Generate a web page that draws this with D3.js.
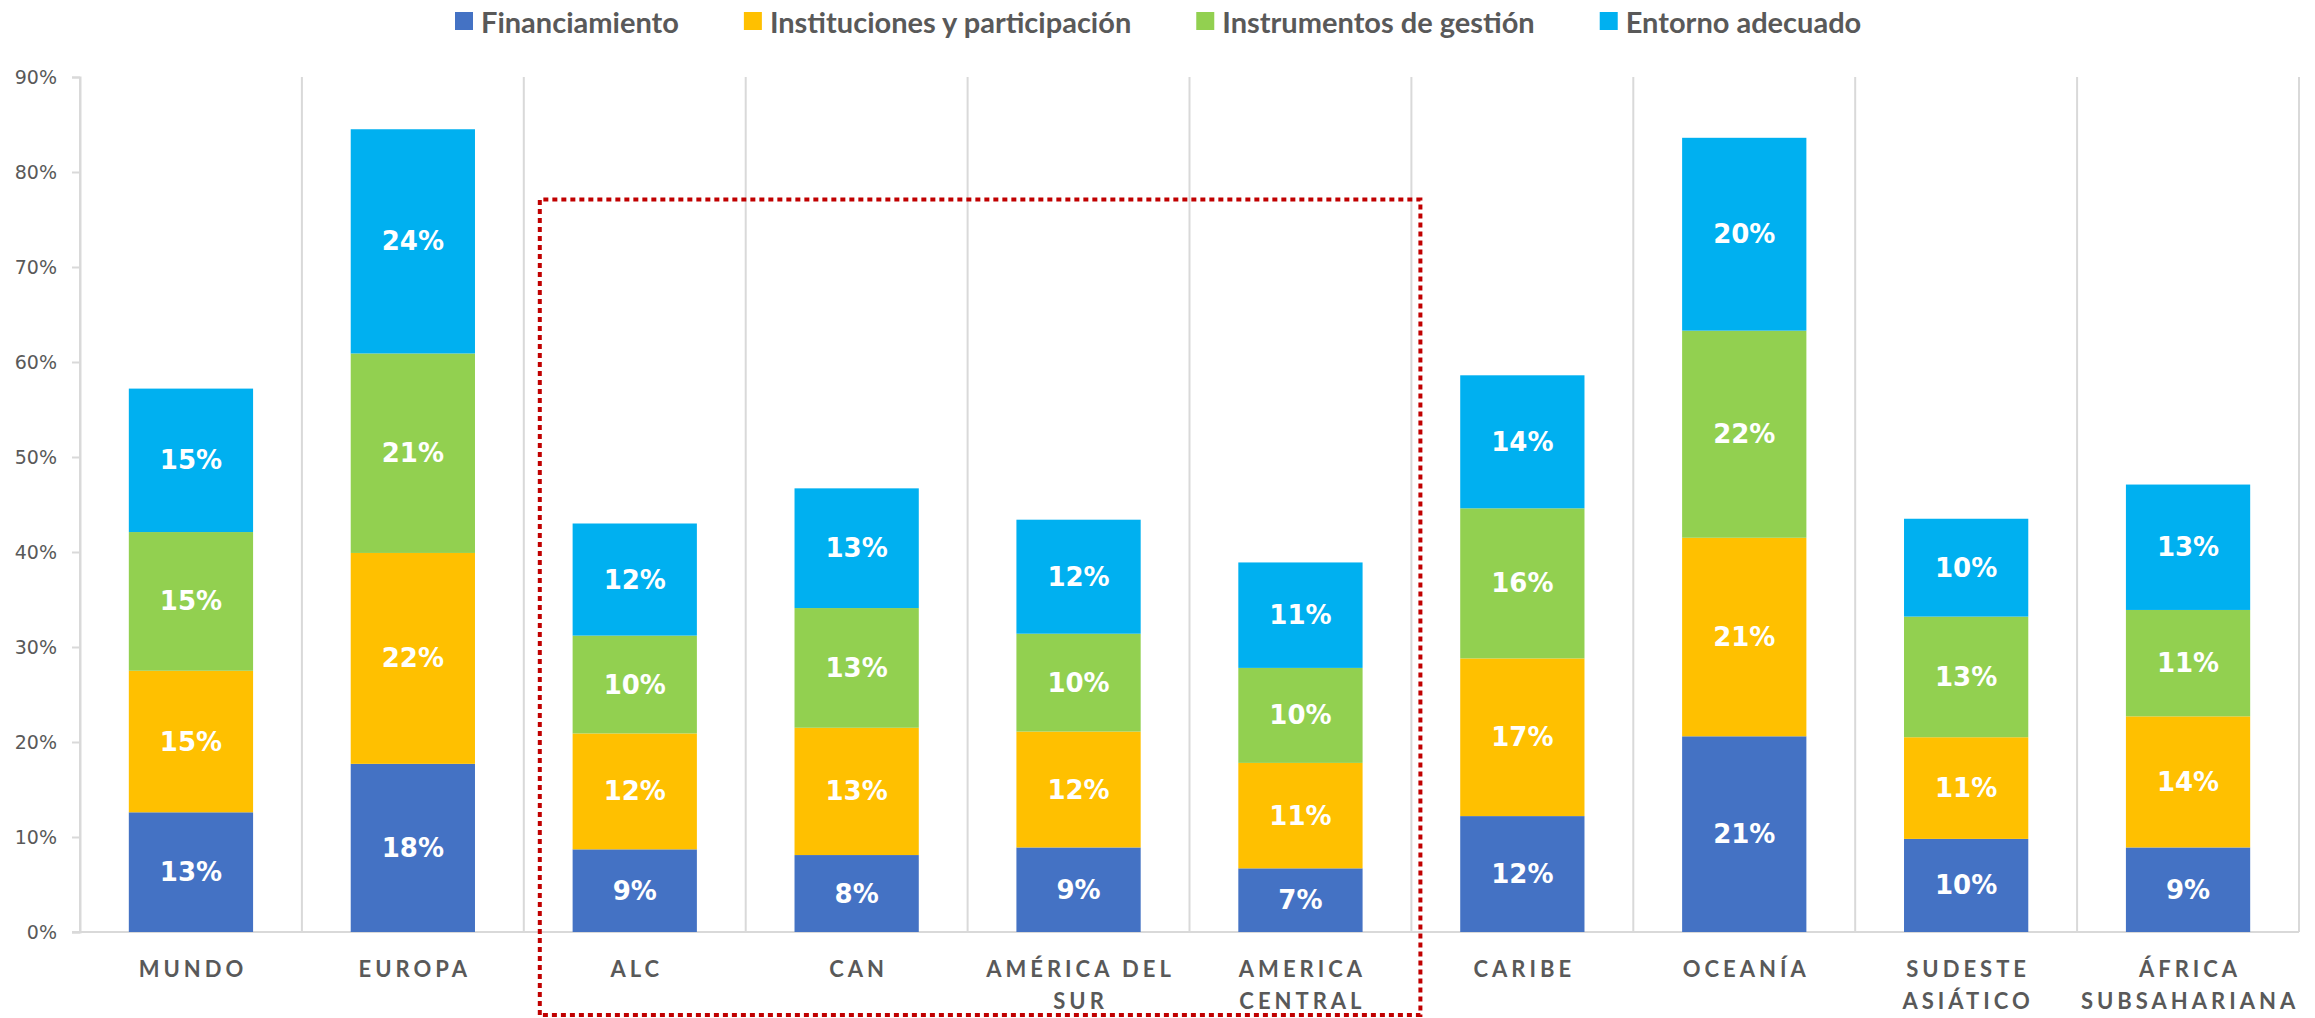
<!DOCTYPE html>
<html lang="es">
    <head>
        <meta charset="UTF-8" />
        <title>Gráfico</title>
        <style>
            body { margin: 0; background: #fff; }
            .axis-y path, .axis-y line { stroke: #D9D9D9; stroke-width: 2; }
            .axis-y text { font-family: "DejaVu Sans", sans-serif; font-size: 19px; fill: #595959; }
            .cat-label { font-family: Lato, sans-serif; font-weight: 700; font-size: 22px; fill: #595959; letter-spacing: 4px; }
            .bar-label { font-family: "DejaVu Sans", sans-serif; font-weight: 700; font-size: 26px; fill: #fff; }
            .legend text { font-family: Lato, sans-serif; font-weight: 700; font-size: 29px; fill: #595959; }
        </style>
    </head>
    <body>
        <div class="chart"></div>

        <script src="https://d3js.org/d3.v7.min.js"></script>

        <script>
            // 資料 =================================================================
            const categories = ['MUNDO', 'EUROPA', 'ALC', 'CAN', 'AMÉRICA DEL SUR', 'AMERICA CENTRAL',
              'CARIBE', 'OCEANÍA', 'SUDESTE ASIÁTICO', 'ÁFRICA SUBSAHARIANA']
            const seriesNames = ['Financiamiento', 'Instituciones y participación', 'Instrumentos de gestión', 'Entorno adecuado']
            const seriesColors = ['#4472C4', '#FFC000', '#92D050', '#00B0F0']

            const financiamiento = [0.126, 0.177, 0.087, 0.081, 0.089, 0.067, 0.122, 0.206, 0.098, 0.089]
            const instituciones  = [0.149, 0.222, 0.122, 0.134, 0.122, 0.111, 0.166, 0.209, 0.107, 0.138]
            const instrumentos   = [0.146, 0.210, 0.103, 0.126, 0.103, 0.100, 0.158, 0.218, 0.127, 0.112]
            const entorno        = [0.151, 0.236, 0.118, 0.126, 0.120, 0.111, 0.140, 0.203, 0.103, 0.132]

            const yTicks = [0, 0.1, 0.2, 0.3, 0.4, 0.5, 0.6, 0.7, 0.8, 0.9]
            // 紅色虛線框住的區域
            const highlight = { from: 'ALC', to: 'AMERICA CENTRAL', top: 0.771 }

            const init = () => {
              const width = 2315
              const height = 1018
              const margin = { top: 77, right: 16, bottom: 86, left: 80 }

              const svg = d3.select('.chart')
                .append('svg')
                .attr('width', width)
                .attr('height', height)

              // 比例尺
              const x = d3.scaleBand()
                .domain(categories)
                .range([margin.left, width - margin.right])
                .padding(0)

              const y = d3.scaleLinear()
                .domain([0, 0.9])
                .range([height - margin.bottom, margin.top])

              // 堆疊資料
              const table = categories.map((c, i) => ({
                cat: c,
                [seriesNames[0]]: financiamiento[i],
                [seriesNames[1]]: instituciones[i],
                [seriesNames[2]]: instrumentos[i],
                [seriesNames[3]]: entorno[i]
              }))
              const stacked = d3.stack().keys(seriesNames)(table)

              // 類別之間的分隔線
              const bounds = categories.map(c => x(c)).concat([x.range()[1]])
              svg.append('g')
                .selectAll('line')
                .data(bounds)
                .join('line')
                .attr('x1', d => d).attr('x2', d => d)
                .attr('y1', y(0.9)).attr('y2', y(0))
                .attr('stroke', '#D9D9D9')
                .attr('stroke-width', 2)

              // Y 軸
              svg.append('g')
                .attr('class', 'axis-y')
                .attr('transform', `translate(${margin.left}, 0)`)
                .call(d3.axisLeft(y).tickValues(yTicks).tickSize(8).tickPadding(15).tickFormat(d3.format('.0%')))

              // 底線
              svg.append('line')
                .attr('x1', margin.left - 8).attr('x2', x.range()[1])
                .attr('y1', y(0)).attr('y2', y(0))
                .attr('stroke', '#D9D9D9')
                .attr('stroke-width', 2)

              // 長條
              const barW = x.bandwidth() * 0.56
              const barOff = (x.bandwidth() - barW) / 2

              const layers = svg.append('g')
                .selectAll('g')
                .data(stacked)
                .join('g')
                .attr('fill', (d, i) => seriesColors[i])

              layers.selectAll('rect')
                .data(d => d)
                .join('rect')
                .attr('x', d => x(d.data.cat) + barOff)
                .attr('y', d => y(d[1]))
                .attr('width', barW)
                .attr('height', d => y(d[0]) - y(d[1]))

              layers.selectAll('text')
                .data(d => d)
                .join('text')
                .attr('class', 'bar-label')
                .attr('x', d => x(d.data.cat) + x.bandwidth() / 2)
                .attr('y', d => (y(d[0]) + y(d[1])) / 2)
                .attr('text-anchor', 'middle')
                .attr('dominant-baseline', 'central')
                .text(d => d3.format('.0%')(d[1] - d[0]))

              // 類別標籤（超過寬度就換行）
              const maxW = x.bandwidth() - 14
              categories.forEach(c => {
                const cx = x(c) + x.bandwidth() / 2 + 2
                const t = svg.append('text')
                  .attr('class', 'cat-label')
                  .attr('text-anchor', 'middle')
                  .attr('x', cx)
                  .attr('y', y(0) + 45)
                let line = []
                let tspan = t.append('tspan').attr('x', cx).attr('dy', 0)
                c.split(' ').forEach(w => {
                  line.push(w)
                  tspan.text(line.join(' '))
                  if (tspan.node().getComputedTextLength() > maxW && line.length > 1) {
                    line.pop()
                    tspan.text(line.join(' '))
                    line = [w]
                    tspan = t.append('tspan').attr('x', cx).attr('dy', 32).text(w)
                  }
                })
              })

              // 紅色虛線框
              const rx0 = x(highlight.from) + 16
              const rx1 = x(highlight.to) + x.bandwidth() + 9
              svg.append('path')
                .attr('d', `M${rx0},${height - 3}V${y(highlight.top)}H${rx1}V${height - 3}H${rx0}`)
                .attr('fill', 'none')
                .attr('stroke', '#C00000')
                .attr('stroke-width', 4)
                .attr('stroke-dasharray', '5 4')

              // 圖例
              const legend = svg.append('g').attr('class', 'legend')
              const items = legend.selectAll('g')
                .data(seriesNames)
                .join('g')
              items.append('rect')
                .attr('width', 18).attr('height', 18)
                .attr('y', -9)
                .attr('fill', (d, i) => seriesColors[i])
              items.append('text')
                .attr('x', 26)
                .attr('dominant-baseline', 'central')
                .text(d => d)

              let cursor = 0
              items.each(function () {
                d3.select(this).attr('transform', `translate(${cursor}, 0)`)
                cursor += 26 + d3.select(this).select('text').node().getComputedTextLength() + 65
              })
              legend.attr('transform', 'translate(455, 21)')
            }

            init()
        </script>
    </body>
</html>
